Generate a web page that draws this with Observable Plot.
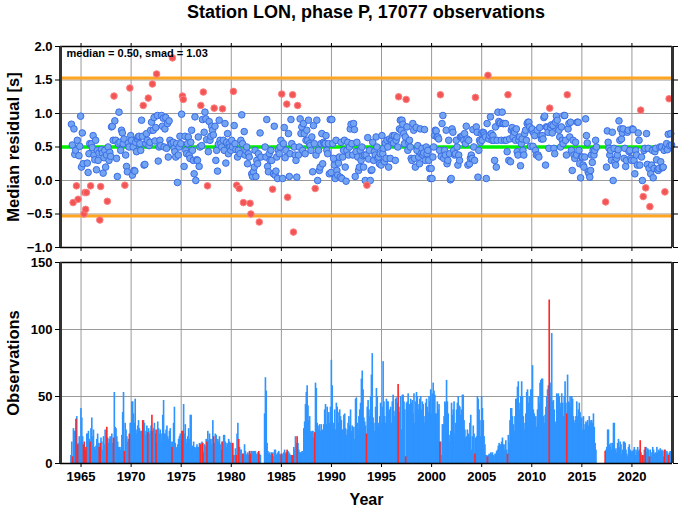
<!DOCTYPE html>
<html><head><meta charset="utf-8">
<script src="https://cdn.jsdelivr.net/npm/d3@7"></script>
<script src="https://cdn.jsdelivr.net/npm/@observablehq/plot@0.6"></script>
<style>
body{margin:0;background:#fff;font-family:"Liberation Sans",Arial,sans-serif;}
#wrap{position:relative;width:678px;height:511px;overflow:hidden;}
#title{position:absolute;left:60px;width:612px;top:0px;text-align:center;font-weight:bold;font-size:18px;line-height:24px;color:#000;z-index:2;}
#top,#bot{position:absolute;left:0;}
#top{top:0;} #bot{top:250px;}
</style></head><body>
<div id="wrap"><div id="title">Station LON, phase P, 17077 observations</div><div id="top"></div><div id="bot"></div></div>
<script>
const startYear = 1964;
const median = 0.50, smad = 1.03, outlierLimit = 0.54;
const xDomain = [1962.95, 2024.05];
const yearTicks = [1965,1970,1975,1980,1985,1990,1995,2000,2005,2010,2015,2020];
const resTicks = [-1.0,-0.5,0.0,0.5,1.0,1.5,2.0];
const obsTicks = [0,50,100,150];

// monthly median residuals [s], Jan..Dec per year (null = no data)
const res60s = [
 0.84,0.53,-0.33,0.77,0.39,0.45,-0.08,0.60,-0.28,0.37,0.51,0.96,
 0.20,0.71,0.25,-0.50,-0.18,-0.43,-0.18,0.26,0.12,0.40,0.55,-0.08,
 0.55,0.49,0.67,0.38,0.31,0.60,0.16,0.45,0.30,0.41,-0.59,-0.09,
 0.46,0.41,0.11,0.34,0.45,0.20,0.38,-0.31,0.50,0.30,0.42,0.36,
 0.80,0.81,0.60,1.26,0.89,0.60,0.33,0.06,0.55,1.02,0.57,0.45,
 0.75,0.71,0.55,0.62,-0.07,0.38,0.21,0.13,0.56,0.50,1.38,0.67];
const res70s = [
 0.60,0.08,0.50,0.15,0.14,0.57,0.43,0.62,0.65,0.66,0.55,0.45,
 0.90,0.66,1.12,0.23,0.24,0.55,0.70,0.60,1.23,0.52,0.57,0.75,
 0.87,1.44,0.75,0.94,0.59,0.79,1.59,0.97,0.29,0.50,0.60,0.52,
 0.97,0.81,0.93,0.50,0.77,0.94,0.48,0.85,0.35,0.89,0.60,0.55,
 0.55,1.83,0.57,0.48,0.43,0.35,0.55,-0.03,0.38,0.50,0.66,0.55,
 0.99,1.26,1.21,0.21,0.66,0.45,0.40,0.55,0.65,0.38,0.33,0.57,
 0.75,0.45,0.30,0.10,0.95,0.00,0.31,0.30,0.65,0.21,0.50,1.12,
 0.52,0.91,1.32,0.72,1.02,0.92,0.61,-0.08,0.43,0.88,0.60,0.66,
 0.81,0.75,0.68,1.08,0.81,0.30,0.45,0.14,0.54,0.90,0.60,0.55,
 0.50,1.07,0.60,0.45,0.85,0.26,0.57,0.70,0.40,0.55,0.50,0.45];
const res80s = [
 0.60,0.50,1.33,0.82,0.55,0.46,-0.07,0.35,0.45,-0.12,0.40,0.60,
 0.98,0.55,-0.33,0.73,0.38,0.45,0.50,0.25,0.40,0.35,-0.34,-0.50,
 0.10,0.06,0.13,0.20,0.45,0.06,0.30,0.25,0.40,-0.62,0.71,0.35,
 null,null,null,null,0.50,0.35,0.91,0.21,0.13,0.40,0.30,0.45,
 0.30,-0.13,0.10,0.81,0.08,0.14,0.35,0.03,0.45,0.40,0.50,0.60,
 1.29,0.03,0.55,0.79,0.34,0.45,1.14,-0.25,0.70,0.06,0.40,0.91,
 0.55,1.28,-0.77,0.50,0.38,0.30,0.05,1.12,0.38,0.50,0.92,0.70,
 0.80,0.45,0.85,0.70,0.40,0.60,0.75,0.60,0.90,0.55,0.52,0.45,
 0.65,0.13,0.82,0.55,-0.12,0.38,0.90,0.00,0.45,0.15,0.20,0.55,
 0.70,0.25,0.57,0.55,0.55,0.67,0.45,0.40,0.55,0.10,0.91,0.12];
const res90s = [
 0.91,0.55,0.33,0.23,0.03,0.60,0.15,0.08,0.26,0.35,0.05,0.57,
 0.03,0.35,0.45,0.60,0.20,-0.01,0.45,0.57,0.38,0.50,0.77,0.84,
 0.55,0.38,0.85,0.76,0.06,0.43,0.57,0.35,0.15,0.20,0.45,0.30,
 0.50,0.37,0.20,0.38,0.00,0.38,-0.07,0.64,0.32,0.45,0.00,0.15,
 0.16,0.57,0.30,0.43,0.38,0.65,0.50,0.33,0.35,0.25,0.40,0.23,
 0.67,0.40,0.48,0.28,0.56,0.33,0.60,0.50,0.20,0.62,0.33,0.60,
 0.60,0.67,0.56,0.67,0.30,0.60,0.65,0.50,1.25,0.77,0.90,0.75,
 0.90,0.84,0.70,0.55,0.65,1.21,0.80,0.45,0.57,0.60,0.50,0.33,
 0.30,0.85,0.75,0.33,0.20,0.79,0.45,0.52,0.35,0.25,0.77,0.40,
 0.48,0.38,0.41,0.76,0.30,0.50,0.40,0.45,0.30,0.18,0.03,0.18];
const res00s = [
 0.03,0.35,0.50,0.67,0.75,0.74,0.65,0.65,0.62,0.45,1.28,0.36,
 0.85,0.97,0.33,0.45,0.38,0.75,0.25,0.30,0.60,0.40,0.01,0.03,
 0.77,0.72,0.45,0.38,0.40,0.60,0.50,0.23,0.38,0.30,0.65,0.65,
 0.65,0.67,0.60,0.70,0.55,0.81,0.62,0.23,0.60,0.25,0.33,0.38,
 0.33,0.76,0.50,0.30,1.24,0.80,0.72,0.05,0.45,0.60,0.57,0.70,
 0.60,0.72,0.71,0.68,0.65,0.03,0.85,1.57,0.62,0.67,0.95,0.70,
 0.60,0.67,0.60,0.30,0.80,0.20,0.60,1.02,0.88,0.85,0.86,0.60,
 1.02,0.85,0.85,0.60,0.85,0.60,0.43,1.28,0.30,0.62,0.28,0.75,
 0.79,0.65,0.74,0.72,0.60,0.77,0.43,0.38,0.60,0.65,0.22,0.55,
 0.62,0.45,0.38,0.70,0.75,0.60,0.85,0.87,0.87,0.80,0.51,0.75];
const res10s = [
 0.77,0.51,0.70,0.67,0.45,0.38,0.75,0.38,0.35,0.79,0.67,0.62,
 0.67,0.62,0.94,0.96,0.23,0.80,0.79,0.72,0.48,1.08,0.79,0.83,
 0.71,0.82,0.48,0.40,0.87,0.96,0.90,0.77,0.75,0.65,0.50,0.80,
 0.60,0.55,0.97,0.97,0.60,0.38,1.28,0.77,0.85,0.65,0.87,0.45,
 0.15,0.60,0.38,0.33,0.57,0.38,0.87,0.87,0.45,0.25,0.04,0.35,
 0.35,0.23,0.20,0.35,0.92,0.67,0.56,0.13,0.10,0.05,0.15,0.38,
 0.27,0.45,0.38,0.45,0.60,0.50,null,null,null,null,null,null,
 null,null,null,null,-0.32,0.20,0.74,0.57,0.48,0.38,0.45,0.30,
 0.72,0.00,0.48,0.28,0.23,0.33,0.38,0.46,0.89,0.60,0.77,0.62,
 0.71,0.77,0.33,0.48,0.21,0.30,0.72,0.75,0.43,0.45,0.33,0.30];
const res20s = [
 0.77,0.76,0.30,0.10,0.45,0.38,0.23,0.71,0.60,0.23,1.05,0.35,
 0.00,-0.24,0.45,0.48,-0.11,0.70,0.24,0.48,0.18,-0.39,0.10,0.23,
 0.45,0.04,0.18,0.43,0.48,0.31,0.16,0.15,0.18,0.50,0.28,0.50,
 0.19,0.20,0.45,-0.17,0.50,0.55,0.46,0.69,1.22,0.52,0.70,0.53];

// monthly number of observations, Jan..Dec per year
const obs60s = [
 6,16,5,26,24,24,33,35,14,15,20,16,
 41,34,20,14,16,10,12,22,22,24,18,16,
 26,34,20,25,12,10,13,18,22,15,12,15,
 19,16,10,20,14,25,24,27,19,15,18,20,
 18,22,15,19,53,27,26,20,16,12,12,10,
 12,21,38,53,9,30,25,20,16,18,22,30];
const obs70s = [
 30,46,46,37,30,48,25,22,28,32,26,24,
 24,24,32,32,30,21,24,28,23,26,22,24,
 28,36,24,26,30,22,25,15,31,26,22,25,
 22,16,36,47,22,22,25,28,20,18,24,26,
 16,12,16,30,42,15,11,12,14,18,20,22,
 17,24,24,44,22,29,15,18,20,26,18,36,
 36,12,13,16,12,11,12,14,12,12,15,14,
 15,16,15,8,14,13,18,16,24,17,22,18,
 14,18,32,20,15,22,21,15,18,16,20,14,
 10,16,16,21,21,16,12,15,14,18,16,15];
const obs80s = [
 15,15,15,6,6,11,6,22,30,18,12,10,
 10,7,7,7,14,9,6,7,8,6,9,7,
 9,9,8,9,9,9,7,6,8,9,7,6,
 0,0,0,0,37,64,54,15,9,7,8,6,
 8,7,8,5,10,10,6,7,8,9,7,6,
 7,7,5,8,10,7,8,10,9,8,7,6,
 6,6,6,12,10,20,15,20,15,10,8,8,
 8,9,8,26,31,44,53,58,43,32,35,24,
 23,24,24,19,23,60,56,30,28,25,29,24,
 29,25,21,29,40,44,29,42,35,38,30,42];
const obs90s = [
 77,58,25,30,40,25,45,42,38,30,40,35,
 32,25,25,36,37,26,21,25,30,35,28,40,
 24,28,25,27,18,48,49,30,25,35,40,45,
 63,69,55,34,31,28,22,42,47,40,35,50,
 66,82,34,30,24,42,56,50,30,28,35,45,
 30,42,76,46,35,30,48,46,46,38,40,42,
 30,46,51,39,35,48,49,45,59,42,38,50,
 25,51,51,46,40,5,45,46,52,40,44,48,
 45,47,37,52,30,46,53,50,40,44,48,50,
 40,46,44,35,30,45,48,42,38,50,46,55];
const obs00s = [
 37,52,60,54,51,37,37,46,40,44,16,16,
 6,29,29,35,46,45,62,46,37,21,16,24,
 45,36,40,46,22,30,40,45,50,43,42,36,
 40,51,51,32,25,19,20,25,22,20,30,36,
 10,20,28,22,7,19,20,50,48,40,32,20,
 50,41,32,20,14,6,6,5,6,7,6,8,
 7,8,6,5,7,7,9,10,13,15,12,14,
 16,19,14,10,14,17,10,7,21,15,32,41,
 41,35,29,24,35,48,48,57,61,40,45,50,
 61,50,35,25,30,37,53,55,45,50,40,55];
const obs10s = [
 55,73,40,37,34,35,27,40,50,45,60,62,
 63,63,35,30,36,42,50,55,58,122,60,50,
 97,46,47,40,29,31,52,51,52,50,45,42,
 52,45,35,50,61,45,37,66,46,45,50,42,
 50,48,35,30,32,35,46,35,40,45,38,33,
 34,25,35,25,29,31,30,32,28,35,30,32,
 32,30,37,27,15,10,0,0,0,0,0,0,
 0,0,0,0,9,10,12,25,25,14,12,15,
 10,15,30,30,10,11,8,15,18,12,16,14,
 7,10,16,16,15,10,7,5,12,14,10,9];
const obs20s = [
 8,9,10,12,6,10,8,12,9,10,17,8,
 6,6,6,10,12,12,8,11,10,5,10,8,
 5,12,10,7,8,7,12,8,10,9,11,8,
 10,9,5,10,10,8,9,7,6,8,9,7];

const allRes = [...res60s, ...res70s, ...res80s, ...res90s, ...res00s, ...res10s, ...res20s];
const allObs = [...obs60s, ...obs70s, ...obs80s, ...obs90s, ...obs00s, ...obs10s, ...obs20s];
const months = allRes.map((r, i) => ({t: startYear + i / 12, res: r, n: allObs[i]}));
const isOut = d => d.res !== null && Math.abs(d.res - median) > outlierLimit;
const pts = months.filter(d => d.res !== null);
const bars = months.filter(d => d.n > 0);

const font = "'Liberation Sans', Arial, sans-serif";
const gridStyle = {stroke: "#9a9a9a", strokeOpacity: 1, strokeWidth: 1};
const baseStyle = {fontFamily: font, fontWeight: "bold", fontSize: "13px", color: "#000", background: "transparent", overflow: "visible"};

const topPlot = Plot.plot({
  width: 678, height: 262,
  marginLeft: 60, marginRight: 6, marginTop: 46, marginBottom: 15,
  style: baseStyle,
  x: {domain: xDomain, axis: null},
  y: {domain: [-1, 2], axis: null},
  marks: [
    Plot.gridX(yearTicks, gridStyle),
    Plot.gridY(resTicks, gridStyle),
    Plot.ruleY([median + smad, median - smad], {stroke: "#ffa521", strokeWidth: 3}),
    Plot.ruleY([median], {stroke: "#00ee00", strokeWidth: 3.5}),
    Plot.dot(pts.filter(d => !isOut(d)), {x: d => d.t + 1/24, y: "res", r: 3.3, fill: "#72a4f2", stroke: "#3b6ee6", strokeWidth: 1}),
    Plot.dot(pts.filter(isOut), {x: d => d.t + 1/24, y: "res", r: 3.3, fill: "#f25555", stroke: "#ff8080", strokeWidth: 1}),
    Plot.ruleY([-1, 2], {stroke: "#000", strokeWidth: 1.5}),
    Plot.ruleX(xDomain, {stroke: "#333", strokeWidth: 3}),
    Plot.axisY(resTicks, {anchor: "left", tickSize: 5, tickPadding: 3, tickFormat: d3.format(".1f"), label: null, fontSize: 13}),
    Plot.axisY(resTicks, {anchor: "right", tickSize: 5, tickFormat: () => "", label: null}),
    Plot.axisX(yearTicks, {anchor: "bottom", tickSize: 4, tickFormat: () => "", label: null}),
    Plot.axisX(yearTicks, {anchor: "top", tickSize: 4, tickFormat: () => "", label: null}),
    Plot.text([`median = ${median.toFixed(2)}, smad = ${smad.toFixed(2)}`], {frameAnchor: "top-left", dx: 6, dy: 3, fontSize: 11, fontWeight: "bold", textAnchor: "start"}),
    Plot.text(["Median residual [s]"], {frameAnchor: "left", textAnchor: "middle", dx: -47, rotate: -90, fontSize: 16.5, fontWeight: "bold"})
  ]
});
document.getElementById("top").appendChild(topPlot);

const botPlot = Plot.plot({
  width: 678, height: 261,
  marginLeft: 60, marginRight: 6, marginTop: 12, marginBottom: 48,
  style: baseStyle,
  x: {domain: xDomain, axis: null},
  y: {domain: [0, 150], axis: null},
  marks: [
    Plot.gridX(yearTicks, gridStyle),
    Plot.gridY(obsTicks, gridStyle),
    Plot.rectY(bars.filter(d => !isOut(d)), {x1: d => d.t, x2: d => d.t + 1/12, y: "n", fill: "#2f94ff", insetLeft: -0.4, insetRight: -0.4}),
    Plot.rectY(bars.filter(isOut), {x1: d => d.t, x2: d => d.t + 1/12, y: "n", fill: "#ff2828", insetLeft: -0.4, insetRight: -0.4}),
    Plot.ruleY([0, 150], {stroke: "#000", strokeWidth: 1.5}),
    Plot.ruleX(xDomain, {stroke: "#333", strokeWidth: 3}),
    Plot.axisY(obsTicks, {anchor: "left", tickSize: 5, tickPadding: 3, label: null, fontSize: 13}),
    Plot.axisY(obsTicks, {anchor: "right", tickSize: 5, tickFormat: () => "", label: null}),
    Plot.axisX(yearTicks, {anchor: "bottom", tickSize: 4, tickPadding: 4, tickFormat: d3.format("d"), label: null, fontSize: 13}),
    Plot.axisX(yearTicks, {anchor: "top", tickSize: 4, tickFormat: () => "", label: null}),
    Plot.text(["Observations"], {frameAnchor: "left", textAnchor: "middle", dx: -47, rotate: -90, fontSize: 16.5, fontWeight: "bold"}),
    Plot.text(["Year"], {frameAnchor: "bottom", dy: 41, fontSize: 16, fontWeight: "bold"})
  ]
});
document.getElementById("bot").appendChild(botPlot);
</script>
</body></html>
